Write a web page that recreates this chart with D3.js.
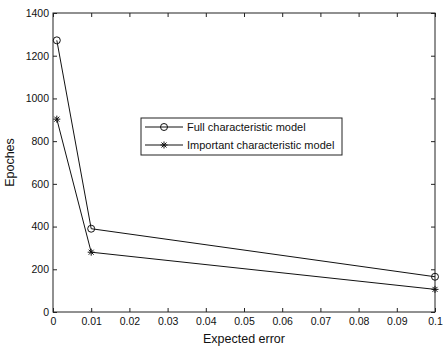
<!DOCTYPE html>
<html>
<head>
<meta charset="utf-8">
<script src="https://cdn.jsdelivr.net/npm/d3@7"></script>
<style>
  body { margin: 0; background: #fff; }
  text { font-family: "Liberation Sans", Arial, sans-serif; fill: #111; }
</style>
</head>
<body>
<div id="myChart"></div>
<script>
// data
const errors = [0.001, 0.01, 0.1];
const fullModel = [1272, 390, 165];
const importantModel = [903, 280, 106];
const xTicks = [0, 0.01, 0.02, 0.03, 0.04, 0.05, 0.06, 0.07, 0.08, 0.09, 0.1];
const yTicks = [0, 200, 400, 600, 800, 1000, 1200, 1400];
const seriesNames = ["Full characteristic model", "Important characteristic model"];

let margin = {top: 13, right: 12, bottom: 36, left: 53},
    width = 447 - margin.left - margin.right,
    height = 348 - margin.top - margin.bottom;

let svg = d3.select("#myChart")
  .append("svg")
    .attr("width", 447)
    .attr("height", 348)
  .append("g")
    .attr("transform", `translate(${margin.left}, ${margin.top})`);

const x = d3.scaleLinear().domain([0, 0.1]).range([0, width]);
const y = d3.scaleLinear().domain([0, 1400]).range([height, 0]);

// box
svg.append("rect")
  .attr("width", width).attr("height", height)
  .attr("fill", "none").attr("stroke", "#222").attr("stroke-width", 1);

// axes, ticks pointing inward
const fmt = d => d === 0 ? "0" : d3.format(".2~f")(d);
svg.append("g").attr("transform", `translate(0,${height})`)
  .call(d3.axisBottom(x).tickValues(xTicks).tickSize(-4).tickPadding(6).tickFormat(fmt));
svg.append("g")
  .call(d3.axisTop(x).tickValues(xTicks).tickSize(-4).tickFormat(""));
svg.append("g")
  .call(d3.axisLeft(y).tickValues(yTicks).tickSize(-4).tickPadding(4).tickFormat(d3.format("d")));
svg.append("g").attr("transform", `translate(${width},0)`)
  .call(d3.axisRight(y).tickValues(yTicks).tickSize(-4).tickFormat(""));

svg.selectAll(".domain").remove();
svg.selectAll(".tick line").attr("stroke", "#222");
svg.selectAll(".tick text").attr("font-size", "10.5px").attr("fill", "#111");

// axis labels
svg.append("text")
  .attr("x", width / 2).attr("y", height + 31)
  .attr("text-anchor", "middle")
  .attr("font-size", "12.5px")
  .text("Expected error");
svg.append("text")
  .attr("transform", `translate(${-39},${height / 2}) rotate(-90)`)
  .attr("text-anchor", "middle")
  .attr("font-size", "12.5px")
  .text("Epoches");

const line = d3.line().x(d => x(d[0])).y(d => y(d[1]));
const fullPts = errors.map((e, i) => [e, fullModel[i]]);
const impPts = errors.map((e, i) => [e, importantModel[i]]);

svg.append("path").datum(fullPts).attr("d", line)
  .attr("fill", "none").attr("stroke", "#111").attr("stroke-width", 1);
svg.append("path").datum(impPts).attr("d", line)
  .attr("fill", "none").attr("stroke", "#111").attr("stroke-width", 1);

function circleMarker(g, cx, cy) {
  g.append("circle").attr("cx", cx).attr("cy", cy).attr("r", 3.5)
    .attr("fill", "none").attr("stroke", "#111").attr("stroke-width", 1);
}
function starMarker(g, cx, cy) {
  const s = 3.5, d = 2.5;
  g.append("path")
    .attr("d", `M${cx - s},${cy}H${cx + s}M${cx},${cy - s}V${cy + s}` +
               `M${cx - d},${cy - d}L${cx + d},${cy + d}M${cx - d},${cy + d}L${cx + d},${cy - d}`)
    .attr("stroke", "#111").attr("stroke-width", 1);
}

fullPts.forEach(p => circleMarker(svg, x(p[0]), y(p[1])));
impPts.forEach(p => starMarker(svg, x(p[0]), y(p[1])));

// legend
const lg = svg.append("g").attr("transform", "translate(88,105)");
lg.append("rect").attr("width", 201).attr("height", 37)
  .attr("fill", "#fff").attr("stroke", "#222").attr("stroke-width", 1);
seriesNames.forEach((name, i) => {
  const ly = 9 + i * 18;
  lg.append("line").attr("x1", 4).attr("x2", 42).attr("y1", ly).attr("y2", ly)
    .attr("stroke", "#111").attr("stroke-width", 1);
  if (i === 0) circleMarker(lg, 23, ly); else starMarker(lg, 23, ly);
  lg.append("text").attr("x", 46).attr("y", ly + 4)
    .attr("font-size", "11px").text(name);
});
</script>
</body>
</html>
